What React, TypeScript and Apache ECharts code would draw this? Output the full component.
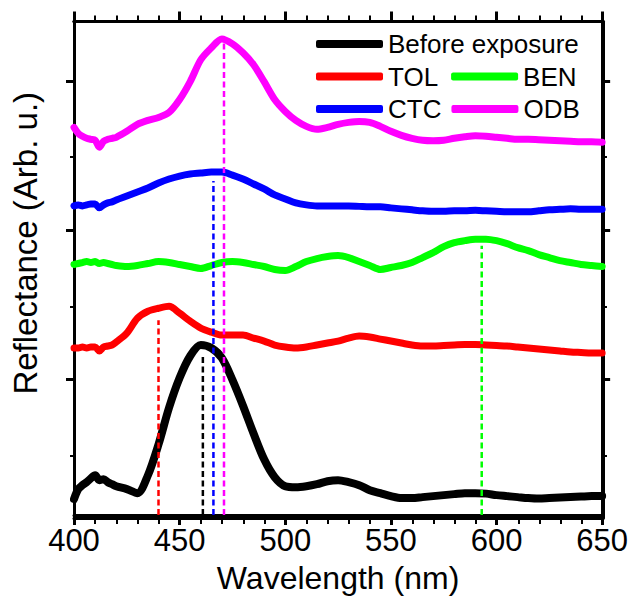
import React, { useEffect, useRef } from "react";
import * as echarts from "echarts";

// Wavelength grid (nm), denser at the short end where the spectra are noisy
const wavelengths = [
  400, 402, 404, 406, 408, 410, 412, 414, 416, 418, 420,
  425, 430, 435, 440, 445, 450, 455, 460, 465, 470, 475, 480, 485, 490, 495,
  500, 505, 510, 515, 520, 525, 530, 535, 540, 545, 550, 555, 560, 565, 570,
  575, 580, 585, 590, 595, 600, 605, 610, 615, 620, 625, 630, 635, 640, 645, 650,
];

// Offset reflectance spectra (arbitrary units)
const beforeExposure = [
  16, 26, 30, 33, 37, 40, 35, 36, 33, 31, 29,
  26, 22, 40, 71, 108, 138, 160, 171, 168, 158, 136, 110, 82, 56, 38,
  29, 28, 29, 31, 34, 35, 33, 30, 25, 22, 19, 17, 17, 18, 19,
  20, 21, 22, 22, 21.5, 20, 19, 18, 17, 16.5, 17, 17.5, 18, 18.5, 19, 19,
];
const tol = [
  168, 168, 169, 168, 169, 169, 165, 169, 170, 171, 174,
  183, 198, 205, 208, 210, 203, 195, 188, 184, 181, 181, 181, 178, 175, 171,
  169, 168, 169, 171, 173, 175, 178, 180, 179, 177, 175, 173, 171, 170, 170,
  170.5, 171, 171.5, 171.5, 171, 170.5, 170, 169, 168, 167, 166, 165, 164, 163.5, 163, 163,
];
const ben = [
  252, 253, 254, 255, 254, 255, 253, 254, 253, 252, 251,
  250, 251, 253, 255, 254, 252, 250, 248, 251, 254, 255, 254, 252, 250, 247,
  246, 250, 255, 258, 260, 261, 259, 255, 251, 247, 249, 251, 254, 259, 264,
  270, 274, 276, 277.5, 277.5, 276, 273, 269, 266, 262, 259, 256, 254, 252, 251, 250,
];
const ctc = [
  311, 312, 311, 312, 313, 313, 309, 312, 314, 315, 317,
  321, 325, 329, 334, 338, 341, 343, 344, 345, 345, 342, 338, 333, 328, 322,
  318, 314, 312, 311, 311, 311, 311, 310.5, 310, 310, 309, 308, 307, 306, 305.5,
  305.5, 306, 306, 306.5, 306, 305.5, 305, 305, 305, 306, 307, 307.5, 308, 307.5, 307.5, 307.5,
];
const odb = [
  390, 384, 381, 379, 378, 377, 370, 376, 378, 379, 380,
  386, 393, 397, 400, 405, 418, 436, 458, 470, 479, 474, 465, 453, 436, 418,
  406, 397, 391, 388, 390, 393, 395, 396, 395, 391, 386, 382, 379, 377, 376.5,
  377, 379, 380.5, 381.5, 381, 380, 379, 378, 378, 377.5, 377, 376.5, 376, 375.5, 375.5, 375,
];

const seriesNames = ["Before exposure", "TOL", "BEN", "CTC", "ODB"];
const seriesColors = ["#000000", "#ff0000", "#00ff00", "#0000ff", "#ff00ff"];
const spectra = [beforeExposure, tol, ben, ctc, odb];

// Peak positions marked with dashed drop lines, and the height each line reaches
const peakWavelengths = [461, 440, 593, 466, 471];
const peakTops = [160, 196, 271, 336, 478];

// X axis range and tick positions (nm)
const xMin = 400;
const xMax = 650;
const xMajorStep = 50;
const xMinorTicks = [
  410, 420, 430, 440, 460, 470, 480, 490, 510, 520, 530, 540,
  560, 570, 580, 590, 610, 620, 630, 640,
];

// Y axis extent and tick positions (no numeric labels on this axis)
const yMin = 0;
const yMax = 496.5;
const yMajorTicks = [136.5, 286, 436];
const yMinorTicks = [62, 211.5, 361];

const FONT = "'Liberation Sans', Arial, Helvetica, sans-serif";

export default function App() {
  const ref = useRef<HTMLDivElement>(null);

  useEffect(() => {
    if (!ref.current) return;
    const chart = echarts.init(ref.current, undefined, { renderer: "svg" });

    const curves = spectra.map((vals, i) => ({
      type: "line",
      name: seriesNames[i],
      data: wavelengths.map((w, j) => [w, vals[j]]),
      showSymbol: false,
      symbol: "none",
      smooth: 0.3,
      silent: true,
      z: 3,
      itemStyle: { color: seriesColors[i] },
      lineStyle: {
        color: seriesColors[i],
        width: i === 0 ? 8 : 7,
        cap: "round",
        join: "round",
      },
    }));

    const dropLines = peakWavelengths.map((w, i) => ({
      type: "line",
      name: seriesNames[i] + " peak",
      data: [
        [w, yMin],
        [w, peakTops[i]],
      ],
      symbol: "none",
      silent: true,
      z: 4,
      lineStyle: { color: seriesColors[i], width: 2.5, type: [6, 3.5] },
    }));

    const axisLine = { show: true, onZero: false, lineStyle: { color: "#000", width: 3 } };
    const majorTickX = { show: true, length: 10, lineStyle: { color: "#000", width: 3 } };
    const majorTickY = { show: true, length: 8, lineStyle: { color: "#000", width: 3 } };
    const minorTickStyle = { show: true, length: 6, lineStyle: { color: "#000", width: 2 } };

    const gridRect = { left: 74, right: 28, top: 21.5, bottom: 81, containLabel: false };

    // Frame axes of the second (overlaid) grid carry the minor ticks
    const minorX = (position: string) => ({
      type: "value",
      gridIndex: 1,
      position,
      min: xMin,
      max: xMax,
      axisLine,
      axisTick: { ...minorTickStyle, customValues: xMinorTicks },
      axisLabel: { show: false },
      splitLine: { show: false },
    });
    const minorY = (position: string) => ({
      type: "value",
      gridIndex: 1,
      position,
      min: yMin,
      max: yMax,
      axisLine,
      axisTick: { ...minorTickStyle, length: 4, customValues: yMinorTicks },
      axisLabel: { show: false },
      splitLine: { show: false },
    });

    const legendText = { fontSize: 26, color: "#000", fontFamily: FONT };
    const legendBase = {
      orient: "horizontal",
      left: 316,
      padding: 0,
      itemWidth: 67,
      itemHeight: 8,
      icon: "roundRect",
      textStyle: legendText,
      selectedMode: false,
    };

    chart.setOption({
      animation: false,
      backgroundColor: "#ffffff",
      grid: [gridRect, gridRect],
      legend: [
        { ...legendBase, top: 31, data: ["Before exposure"] },
        { ...legendBase, top: 63.5, itemGap: 13, data: ["TOL", "BEN"] },
        { ...legendBase, top: 96, itemGap: 10, data: ["CTC", "ODB"] },
      ],
      xAxis: [
        {
          type: "value",
          gridIndex: 0,
          position: "bottom",
          min: xMin,
          max: xMax,
          interval: xMajorStep,
          axisLine,
          axisTick: majorTickX,
          splitLine: { show: false },
          axisLabel: { fontSize: 31, color: "#000", fontFamily: FONT, margin: 10 },
          name: "Wavelength (nm)",
          nameLocation: "middle",
          nameGap: 47,
          nameTextStyle: { fontSize: 32, color: "#000", fontFamily: FONT },
        },
        {
          type: "value",
          gridIndex: 0,
          position: "top",
          min: xMin,
          max: xMax,
          interval: xMajorStep,
          axisLine,
          axisTick: majorTickX,
          splitLine: { show: false },
          axisLabel: { show: false },
        },
        minorX("bottom"),
        minorX("top"),
      ],
      yAxis: [
        {
          type: "value",
          gridIndex: 0,
          position: "left",
          min: yMin,
          max: yMax,
          axisLine,
          axisTick: { ...majorTickY, customValues: yMajorTicks },
          axisLabel: { show: false },
          splitLine: { show: false },
          name: "Reflectance (Arb. u.)",
          nameLocation: "middle",
          nameGap: 32,
          nameTextStyle: {
            fontSize: 33,
            color: "#000",
            fontFamily: FONT,
            padding: [0, 0, 0, 50],
          },
        },
        {
          type: "value",
          gridIndex: 0,
          position: "right",
          min: yMin,
          max: yMax,
          axisLine,
          axisTick: { ...majorTickY, customValues: yMajorTicks },
          axisLabel: { show: false },
          splitLine: { show: false },
        },
        minorY("left"),
        minorY("right"),
      ],
      series: [...curves, ...dropLines],
    });

    return () => chart.dispose();
  }, []);

  return (
    <div
      ref={ref}
      style={{ position: "fixed", left: 0, top: 0, width: 631, height: 599, background: "#fff" }}
    />
  );
}
